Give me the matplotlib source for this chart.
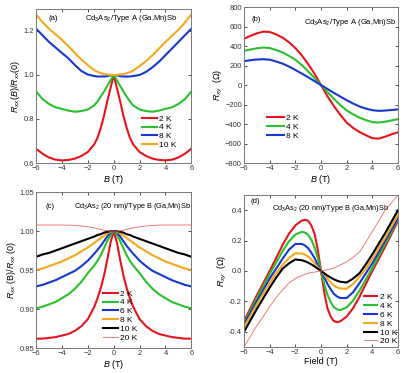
import matplotlib
matplotlib.use('Agg')
import matplotlib.pyplot as plt

plt.rcParams['font.family'] = ['Liberation Sans', 'DejaVu Sans']
plt.rcParams['mathtext.fontset'] = 'custom'
plt.rcParams['mathtext.rm'] = 'Liberation Sans'
plt.rcParams['mathtext.it'] = 'Liberation Sans:italic'
plt.rcParams['font.size'] = 6

# ---- data ----
# field grid shared by panels (a), (c), (d)
B = [-6, -5.5, -5, -4.5, -4, -3.5, -3, -2.5, -2, -1.5, -1.25, -1, -0.75, -0.5, -0.25, 0,
     0.25, 0.5, 0.75, 1, 1.25, 1.5, 2, 2.5, 3, 3.5, 4, 4.5, 5, 5.5, 6]

# panel (a): Rxx(B)/Rxx(0), Type A
a_2K = [0.665, 0.642, 0.625, 0.615, 0.612, 0.614, 0.62, 0.632, 0.65, 0.685, 0.715, 0.76, 0.815, 0.88, 0.94, 1.0,
        0.94, 0.88, 0.815, 0.76, 0.715, 0.685, 0.65, 0.632, 0.62, 0.614, 0.612, 0.615, 0.625, 0.642, 0.665]
a_4K = [0.925, 0.89, 0.868, 0.853, 0.846, 0.838, 0.833, 0.836, 0.843, 0.862, 0.88, 0.902, 0.925, 0.95, 0.975, 1.0,
        0.975, 0.95, 0.925, 0.902, 0.88, 0.862, 0.843, 0.836, 0.833, 0.838, 0.846, 0.853, 0.868, 0.89, 0.925]
a_8K = [1.21, 1.18, 1.15, 1.125, 1.1, 1.075, 1.045, 1.018, 1.002, 0.995, 0.993, 0.993, 0.993, 0.995, 0.998, 1.0,
        0.998, 0.995, 0.993, 0.993, 0.993, 0.995, 1.0, 1.014, 1.035, 1.06, 1.09, 1.12, 1.15, 1.18, 1.21]
a_10K = [1.275, 1.24, 1.21, 1.185, 1.16, 1.13, 1.1, 1.07, 1.045, 1.022, 1.014, 1.009, 1.004, 1.002, 1.0, 1.0,
         1.0, 1.002, 1.004, 1.008, 1.013, 1.02, 1.04, 1.063, 1.09, 1.12, 1.15, 1.178, 1.205, 1.238, 1.275]

# panel (b): Rxy (Ohm), Type A
B_b = [-6, -5.5, -5, -4.5, -4, -3.5, -3, -2.5, -2, -1.5, -1, -0.5, 0,
       0.5, 1, 1.5, 2, 2.5, 3, 3.5, 4, 4.5, 5, 5.5, 6]
b_2K = [475, 505, 530, 548, 545, 520, 487, 440, 380, 305, 215, 115, 0,
        -115, -215, -305, -385, -440, -482, -515, -545, -550, -530, -505, -485]
b_4K = [350, 365, 377, 385, 380, 360, 335, 300, 260, 205, 140, 72, 0,
        -72, -140, -205, -260, -300, -335, -360, -380, -385, -377, -363, -350]
b_8K = [245, 255, 262, 265, 260, 242, 220, 190, 155, 118, 80, 40, 0,
        -40, -80, -118, -155, -190, -220, -242, -258, -265, -262, -256, -250]

# panel (c): Rxx(B)/Rxx(0), Type B
c_2K = [0.862, 0.862, 0.863, 0.864, 0.866, 0.868, 0.872, 0.878, 0.887, 0.903, 0.914, 0.927, 0.943, 0.963, 0.985, 1.0,
        0.985, 0.963, 0.943, 0.927, 0.914, 0.903, 0.887, 0.878, 0.872, 0.868, 0.866, 0.864, 0.863, 0.862, 0.862]
c_4K = [0.901, 0.903, 0.906, 0.909, 0.914, 0.919, 0.926, 0.935, 0.946, 0.956, 0.962, 0.969, 0.978, 0.987, 0.995, 1.0,
        0.995, 0.987, 0.978, 0.969, 0.962, 0.956, 0.946, 0.935, 0.926, 0.919, 0.914, 0.909, 0.906, 0.903, 0.901]
c_6K = [0.929, 0.931, 0.934, 0.937, 0.941, 0.945, 0.949, 0.955, 0.962, 0.971, 0.976, 0.981, 0.987, 0.993, 0.998, 1.0,
        0.998, 0.993, 0.987, 0.981, 0.976, 0.971, 0.962, 0.955, 0.949, 0.945, 0.941, 0.937, 0.934, 0.931, 0.929]
c_8K = [0.950, 0.952, 0.955, 0.958, 0.961, 0.965, 0.969, 0.974, 0.979, 0.985, 0.988, 0.991, 0.994, 0.997, 0.999, 1.0,
        0.999, 0.997, 0.994, 0.991, 0.988, 0.985, 0.979, 0.974, 0.969, 0.965, 0.961, 0.958, 0.955, 0.952, 0.950]
c_10K = [0.967, 0.970, 0.972, 0.975, 0.978, 0.981, 0.984, 0.987, 0.990, 0.993, 0.995, 0.996, 0.998, 0.999, 1.0, 1.0,
         1.0, 0.999, 0.998, 0.996, 0.995, 0.993, 0.990, 0.987, 0.984, 0.981, 0.978, 0.975, 0.972, 0.970, 0.967]
c_20K = [1.0078, 1.0078, 1.0078, 1.0078, 1.0078, 1.0076, 1.0072, 1.0065, 1.0055, 1.004, 1.003, 1.002, 1.001, 1.0005, 1.0, 1.0,
         1.0, 1.0005, 1.001, 1.002, 1.003, 1.004, 1.0055, 1.0065, 1.0072, 1.0076, 1.0078, 1.0078, 1.0078, 1.0078, 1.0078]

# panel (d): Rxy (Ohm), Type B
d_2K = [-0.33, -0.245, -0.16, -0.08, 0.0, 0.085, 0.17, 0.245, 0.30, 0.332, 0.337, 0.33, 0.30, 0.245, 0.14, 0.0,
        -0.14, -0.245, -0.30, -0.33, -0.337, -0.332, -0.30, -0.245, -0.17, -0.085, 0.0, 0.08, 0.16, 0.245, 0.33]
d_4K = [-0.345, -0.26, -0.18, -0.1, -0.02, 0.055, 0.13, 0.195, 0.24, 0.258, 0.253, 0.238, 0.205, 0.155, 0.085, 0.0,
        -0.085, -0.155, -0.205, -0.238, -0.253, -0.258, -0.24, -0.195, -0.13, -0.055, 0.02, 0.1, 0.18, 0.26, 0.345]
d_6K = [-0.35, -0.275, -0.2, -0.125, -0.05, 0.015, 0.08, 0.14, 0.178, 0.178, 0.168, 0.15, 0.12, 0.085, 0.04, 0.0,
        -0.04, -0.085, -0.12, -0.15, -0.168, -0.178, -0.178, -0.14, -0.08, -0.015, 0.05, 0.125, 0.2, 0.275, 0.35]
d_8K = [-0.37, -0.295, -0.22, -0.15, -0.08, -0.015, 0.04, 0.085, 0.117, 0.115, 0.108, 0.095, 0.075, 0.05, 0.025, 0.0,
        -0.025, -0.05, -0.075, -0.095, -0.108, -0.115, -0.117, -0.085, -0.04, 0.015, 0.08, 0.15, 0.22, 0.295, 0.37]
d_10K = [-0.40, -0.325, -0.25, -0.18, -0.11, -0.045, 0.015, 0.05, 0.076, 0.071, 0.064, 0.055, 0.043, 0.03, 0.015, 0.0,
         -0.015, -0.03, -0.043, -0.055, -0.064, -0.071, -0.076, -0.05, -0.015, 0.045, 0.11, 0.18, 0.25, 0.325, 0.40]
d_20K = [-0.5, -0.43, -0.36, -0.3, -0.235, -0.175, -0.125, -0.08, -0.05, -0.03, -0.022, -0.015, -0.01, -0.007, -0.003, 0.0,
         0.004, 0.009, 0.014, 0.02, 0.03, 0.04, 0.06, 0.09, 0.125, 0.19, 0.26, 0.33, 0.40, 0.45, 0.5]

RED = '#e8141c'
GREEN = '#28c02c'
BLUE = '#1638d0'
ORANGE = '#f5a81e'
BLACK = '#000000'
PINK = '#f07a7a'
LW = 1.5


def style(ax):
    ax.tick_params(direction='in', top=True, right=True, length=2.5, width=0.6,
                   labelsize=5.4, pad=1.5, colors='#333333')
    for s in ax.spines.values():
        s.set_linewidth(0.7)
        s.set_color('#777777')
    ax.set_xlim(-6, 6)
    ax.set_xticks([-6, -4, -2, 0, 2, 4, 6])


def legend(ax, anchor, hl=1.8):
    ax.legend(loc='lower left', bbox_to_anchor=anchor, frameon=False, fontsize=6,
              handlelength=hl, handletextpad=0.25, labelspacing=0.12, borderpad=0.0,
              borderaxespad=0.0)


fig = plt.figure(figsize=(4.15, 3.73), dpi=100)
ax_a = fig.add_axes([0.087, 0.563, 0.374, 0.413])
ax_b = fig.add_axes([0.588, 0.563, 0.371, 0.418])
ax_c = fig.add_axes([0.087, 0.067, 0.374, 0.418])
ax_d = fig.add_axes([0.588, 0.070, 0.371, 0.407])

# (a)
ax_a.plot(B, a_2K, color=RED, lw=LW, label='2 K')
ax_a.plot(B, a_4K, color=GREEN, lw=LW, label='4 K')
ax_a.plot(B, a_8K, color=BLUE, lw=LW, label='8 K')
ax_a.plot(B, a_10K, color=ORANGE, lw=LW, label='10 K')
style(ax_a)
ax_a.set_ylim(0.6, 1.3)
ax_a.set_yticks([0.6, 0.8, 1.0, 1.2])
ax_a.set_xlabel('$B$ (T)', labelpad=0.5, fontsize=6.5)
ax_a.set_ylabel('$R_{xx}(B)/R_{xx}(0)$', labelpad=1, fontsize=6.5)
ax_a.text(0.08, 0.94, '(a)', transform=ax_a.transAxes, fontsize=5.5, va='center')
ax_a.text(0.91, 0.94, 'Cd$_3$As$_2$/Type A (Ga,Mn)Sb', transform=ax_a.transAxes,
          fontsize=5.5, ha='right', va='center')
legend(ax_a, (0.68, 0.09))

# (b)
ax_b.plot(B_b, b_2K, color=RED, lw=LW, label='2 K')
ax_b.plot(B_b, b_4K, color=GREEN, lw=LW, label='4 K')
ax_b.plot(B_b, b_8K, color=BLUE, lw=LW, label='8 K')
style(ax_b)
ax_b.set_ylim(-800, 800)
ax_b.set_yticks(range(-800, 801, 200))
ax_b.set_xlabel('$B$ (T)', labelpad=0.5, fontsize=6.5)
ax_b.set_ylabel('$R_{xy}$  ($\\Omega$)', labelpad=0, fontsize=6.5)
ax_b.text(0.05, 0.92, '(b)', transform=ax_b.transAxes, fontsize=5.5, va='center')
ax_b.text(0.99, 0.9, 'Cd$_3$As$_2$/Type A (Ga,Mn)Sb', transform=ax_b.transAxes,
          fontsize=5.5, ha='right', va='center')
legend(ax_b, (0.15, 0.15), hl=2.0)

# (c)
ax_c.plot(B, c_2K, color=RED, lw=LW, label='2 K')
ax_c.plot(B, c_4K, color=GREEN, lw=LW, label='4 K')
ax_c.plot(B, c_6K, color=BLUE, lw=LW, label='6 K')
ax_c.plot(B, c_8K, color=ORANGE, lw=LW, label='8 K')
ax_c.plot(B, c_10K, color=BLACK, lw=LW, label='10 K')
ax_c.plot(B, c_20K, color=PINK, lw=0.7, label='20 K')
style(ax_c)
ax_c.set_ylim(0.85, 1.05)
ax_c.set_yticks([0.85, 0.90, 0.95, 1.00, 1.05])
ax_c.set_yticklabels(['0.85', '0.90', '0.95', '1.00', '1.05'])
ax_c.set_xlabel('$B$ (T)', labelpad=0.5, fontsize=6.5)
ax_c.set_ylabel('$R_{xx}$ (B)/$R_{xx}$ (0)', labelpad=1, fontsize=6.5)
ax_c.text(0.06, 0.91, '(c)', transform=ax_c.transAxes, fontsize=5.5, va='center')
ax_c.text(1.0, 0.91, 'Cd$_3$As$_2$ (20 nm)/Type B (Ga,Mn)Sb', transform=ax_c.transAxes,
          fontsize=5.3, ha='right', va='center')
legend(ax_c, (0.43, 0.04))

# (d)
ax_d.plot(B, d_2K, color=RED, lw=LW, label='2 K')
ax_d.plot(B, d_4K, color=GREEN, lw=LW, label='4 K')
ax_d.plot(B, d_6K, color=BLUE, lw=LW, label='6 K')
ax_d.plot(B, d_8K, color=ORANGE, lw=LW, label='8 K')
ax_d.plot(B, d_10K, color=BLACK, lw=LW, label='10 K')
ax_d.plot(B, d_20K, color=PINK, lw=0.7, label='20 K')
style(ax_d)
ax_d.set_ylim(-0.5, 0.5)
ax_d.set_yticks([-0.4, -0.2, 0.0, 0.2, 0.4])
ax_d.set_yticklabels(['-0.4', '-0.2', '0.0', '0.2', '0.4'])
ax_d.set_xlabel('Field (T)', labelpad=0.5, fontsize=6.5)
ax_d.set_ylabel('$R_{xy}$  ($\\Omega$)', labelpad=0, fontsize=6.5)
ax_d.text(0.04, 0.955, '(d)', transform=ax_d.transAxes, fontsize=5.5, va='center')
ax_d.text(0.94, 0.91, 'Cd$_3$As$_2$ (20 nm)/Type B (Ga,Mn)Sb', transform=ax_d.transAxes,
          fontsize=5.3, ha='right', va='center')
legend(ax_d, (0.78, 0.01), hl=1.6)

fig.savefig('out.png', dpi=100)
